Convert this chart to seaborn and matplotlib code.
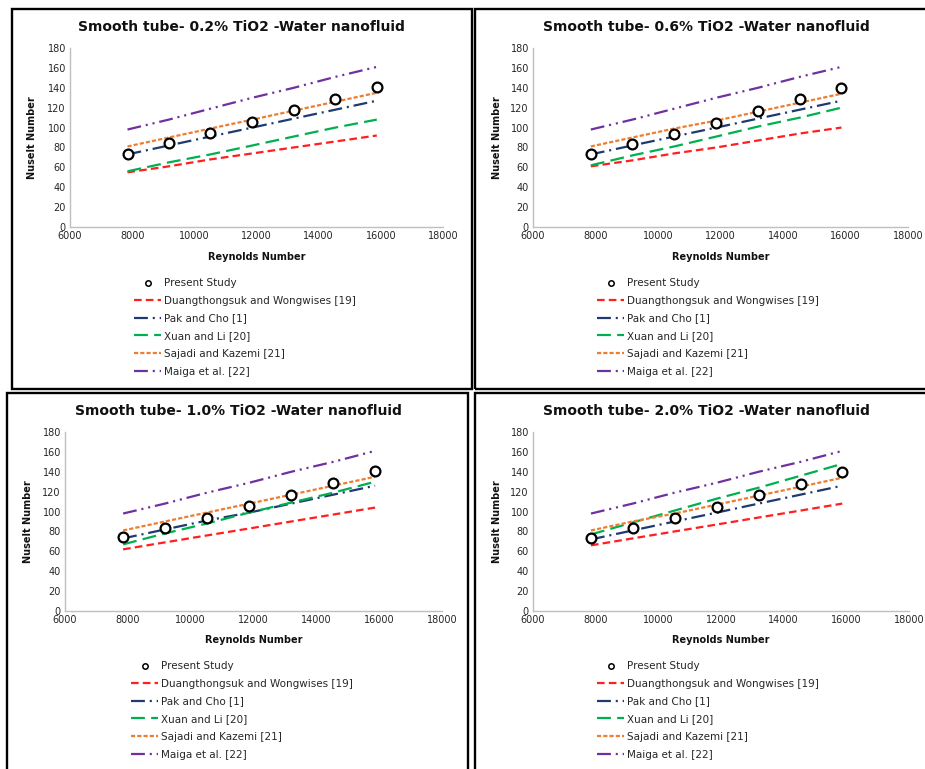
import numpy as np
import pandas as pd
import matplotlib
matplotlib.use("Agg")
import matplotlib.pyplot as plt
from matplotlib.patches import Rectangle
import seaborn as sns

# ---------------- data ----------------
reynolds = [7850, 9180, 10520, 11870, 13200, 14540, 15870]

titles = ["Smooth tube- 0.2% TiO2 -Water nanofluid",
          "Smooth tube- 0.6% TiO2 -Water nanofluid",
          "Smooth tube- 1.0% TiO2 -Water nanofluid",
          "Smooth tube- 2.0% TiO2 -Water nanofluid"]

series_names = ["Present Study", "Duangthongsuk and Wongwises [19]", "Pak and Cho [1]",
                "Xuan and Li [20]", "Sajadi and Kazemi [21]", "Maiga et al. [22]"]

present_02 = [73, 84, 95, 106, 118, 129, 141]
present_06 = [73, 83, 94, 105, 117, 129, 140]
present_10 = [74, 83, 94, 106, 117, 129, 141]
present_20 = [73, 83, 94, 105, 117, 128, 140]

duang_02 = [55, 61, 68, 74, 80, 86, 92]
duang_06 = [61, 67, 74, 80, 87, 94, 100]
duang_10 = [62, 69, 76, 83, 90, 97, 104]
duang_20 = [66, 73, 80, 87, 94, 101, 108]

pak_02 = [73, 82, 91, 100, 109, 118, 127]
pak_06 = [73, 82, 91, 100, 109, 118, 127]
pak_10 = [73, 82, 91, 99, 108, 117, 126]
pak_20 = [72, 81, 90, 99, 108, 117, 126]

xuan_02 = [56, 65, 73, 82, 91, 100, 108]
xuan_06 = [62, 72, 81, 91, 101, 110, 120]
xuan_10 = [67, 78, 88, 99, 109, 119, 130]
xuan_20 = [77, 89, 101, 113, 124, 136, 148]

sajadi_02 = [81, 90, 99, 108, 117, 126, 135]
sajadi_06 = [81, 90, 99, 107, 116, 125, 134]
sajadi_10 = [81, 90, 99, 108, 117, 126, 135]
sajadi_20 = [81, 90, 98, 107, 116, 125, 134]

maiga_02 = [98, 108, 119, 130, 140, 151, 161]
maiga_06 = [98, 108, 119, 130, 140, 151, 161]
maiga_10 = [98, 108, 119, 129, 140, 150, 161]
maiga_20 = [98, 108, 119, 129, 140, 150, 161]

present_all = [present_02, present_06, present_10, present_20]
duang_all = [duang_02, duang_06, duang_10, duang_20]
pak_all = [pak_02, pak_06, pak_10, pak_20]
xuan_all = [xuan_02, xuan_06, xuan_10, xuan_20]
sajadi_all = [sajadi_02, sajadi_06, sajadi_10, sajadi_20]
maiga_all = [maiga_02, maiga_06, maiga_10, maiga_20]

x_ticks = [6000, 8000, 10000, 12000, 14000, 16000, 18000]
y_ticks = [0, 20, 40, 60, 80, 100, 120, 140, 160, 180]

# ---------------- style ----------------
sns.set_theme(style="white")
plt.rcParams["font.family"] = ["DejaVu Sans"]
plt.rcParams["lines.scale_dashes"] = False

W, H = 925, 769
fig = plt.figure(figsize=(W / 100, H / 100), dpi=100)


def fx(px):
    return px / W


def fy(py):
    return 1 - py / H


line_styles = {
    "Duangthongsuk and Wongwises [19]": dict(color="#FF1F1F", ls=(0, (5.5, 3.0))),
    "Pak and Cho [1]": dict(color="#1F3A6E", ls=(0, (10, 3.5, 1.5, 3.5))),
    "Xuan and Li [20]": dict(color="#00B050", ls=(0, (10, 4.5))),
    "Sajadi and Kazemi [21]": dict(color="#ED7D31", ls=(0, (3.0, 1.5))),
    "Maiga et al. [22]": dict(color="#7030A0", ls=(0, (10, 3.5, 1.5, 3.5, 1.5, 3.5))),
}

# pixel layout: axes (x0, x1, ytop, ybottom), title xy, ylabel x, xlabel y, legend anchor, box
panels = [
    dict(ax=(70, 443, 48, 227), title=(241, 27), ylab=32, xlab=257, leg=(134, 277), box=(12, 9, 472, 389.3)),
    dict(ax=(533, 908, 48, 227), title=(706, 27), ylab=497, xlab=257, leg=(597, 277), box=(475.2, 9, 940, 389.3)),
    dict(ax=(65, 442, 432, 611), title=(238, 411), ylab=28, xlab=640, leg=(131, 660), box=(7, 393.4, 468.3, 780)),
    dict(ax=(533, 909, 432, 611), title=(706, 411), ylab=497, xlab=640, leg=(597, 660), box=(475.2, 393.4, 940, 780)),
]

for i, p in enumerate(panels):
    x0, x1, yt, yb = p["ax"]
    ax = fig.add_axes([fx(x0), fy(yb), (x1 - x0) / W, (yb - yt) / H])

    df_pts = pd.DataFrame({"Re": reynolds, "Nu": present_all[i]})
    sns.scatterplot(data=df_pts, x="Re", y="Nu", ax=ax, marker="o", s=50,
                    facecolor="white", edgecolor="black", linewidth=1.6,
                    label="Present Study", zorder=5)

    curves = [duang_all[i], pak_all[i], xuan_all[i], sajadi_all[i], maiga_all[i]]
    for name, vals in zip(series_names[1:], curves):
        st = line_styles[name]
        sns.lineplot(x=reynolds, y=vals, ax=ax, color=st["color"], linestyle=st["ls"],
                     linewidth=1.6, label=name)

    ax.set_xlim(6000, 18000)
    ax.set_ylim(0, 180)
    ax.set_xticks(x_ticks)
    ax.set_yticks(y_ticks)
    ax.tick_params(axis="both", labelsize=7, colors="#BFBFBF", labelcolor="#262626",
                   direction="in", length=3, width=0.8, pad=3)
    for s in ["top", "right"]:
        ax.spines[s].set_visible(False)
    for s in ["left", "bottom"]:
        ax.spines[s].set_color("#BFBFBF")
        ax.spines[s].set_linewidth(1.0)

    ax.set_xlabel("Reynolds Number", fontsize=7, fontweight="bold", color="#111111")
    ax.set_ylabel("Nuselt Number", fontsize=7, fontweight="bold", color="#111111")
    ax.xaxis.set_label_coords(fx((x0 + x1) / 2), fy(p["xlab"]), transform=fig.transFigure)
    ax.xaxis.label.set_va("center")
    ax.yaxis.set_label_coords(fx(p["ylab"]), fy((yt + yb) / 2), transform=fig.transFigure)
    ax.yaxis.label.set_va("center")

    fig.text(fx(p["title"][0]), fy(p["title"][1]), titles[i], ha="center", va="center",
             fontsize=10, fontweight="bold", color="#111111")

    handles, labels = ax.get_legend_handles_labels()
    leg = ax.legend(handles, labels, loc="upper left",
                    bbox_to_anchor=(fx(p["leg"][0]), fy(p["leg"][1] + 1)),
                    bbox_transform=fig.transFigure, frameon=False, fontsize=7.5,
                    handlelength=2.6, handletextpad=0.3, labelspacing=0.74, borderpad=0,
                    borderaxespad=0, markerscale=0.55)
    leg.legend_handles[0].set_linewidth(1.1)

    bx0, by0, bx1, by1 = p["box"]
    fig.patches.append(Rectangle((fx(bx0), fy(by1)), (bx1 - bx0) / W, (by1 - by0) / H,
                                 transform=fig.transFigure, fill=False, edgecolor="black",
                                 linewidth=1.7, zorder=10))

fig.savefig("out.png", dpi=100)
